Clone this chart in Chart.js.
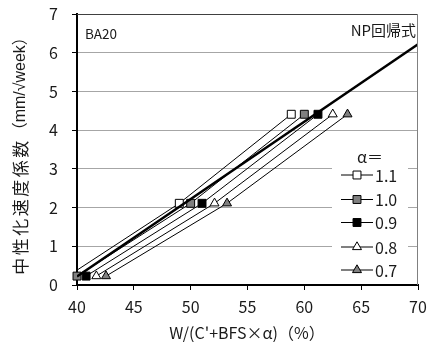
<!DOCTYPE html>
<html>
<head>
<meta charset="utf-8">
<script src="https://cdn.jsdelivr.net/npm/chart.js@4/dist/chart.umd.min.js"></script>
<style>
html, body { margin: 0; padding: 0; background: #fff; }
#wrap { width: 429px; height: 342px; }
</style>
</head>
<body>
<div id="wrap"><canvas id="myChart" width="429" height="342"></canvas></div>
<script>
// values
var alphaLabels = ['1.1', '1.0', '0.9', '0.8', '0.7'];
var yValues = [0.23, 2.11, 4.41];
var x11 = [39.2, 49.0, 58.85];
var x10 = [40.0, 50.0, 60.0];
var x09 = [40.8, 51.0, 61.2];
var x08 = [41.7, 52.1, 62.5];
var x07 = [42.55, 53.2, 63.8];
var regX = [40, 70];
var regY = [0.22, 6.22];
var xTicks = [40, 45, 50, 55, 60, 65, 70];
var yTicks = [0, 1, 2, 3, 4, 5, 6, 7];

var FONT = '"Noto Sans CJK JP", "Noto Sans", sans-serif';
var TXT = '#1a1a1a';

var markers = [
    { style: 'rect', fill: '#ffffff', r: 5.6 },
    { style: 'rect', fill: '#808080', r: 5.6 },
    { style: 'rect', fill: '#000000', r: 5.6 },
    { style: 'triangle', fill: '#ffffff', r: 5.2 },
    { style: 'triangle', fill: '#808080', r: 5.2 }
];
var seriesX = [x11, x10, x09, x08, x07];

function toPoints(xs, ys) {
    var pts = [];
    for (var i = 0; i < xs.length; i++) {
        pts.push({ x: xs[i], y: ys[i] });
    }
    return pts;
}

var datasets = [];
datasets.push({
    label: 'NP回帰式',
    data: toPoints(regX, regY),
    borderColor: '#000',
    borderWidth: 2.5,
    pointRadius: 0,
    clip: 0
});
for (var s = 0; s < seriesX.length; s++) {
    datasets.push({
        label: alphaLabels[s],
        data: toPoints(seriesX[s], yValues),
        borderColor: '#000',
        borderWidth: 1,
        pointStyle: markers[s].style,
        pointRadius: markers[s].r,
        pointBackgroundColor: markers[s].fill,
        pointBorderColor: '#000',
        pointBorderWidth: 1,
        clip: s === 0 ? 0 : { left: 6, top: 0, right: 0, bottom: 6 }
    });
}

function drawMarker(ctx, m, x, y) {
    ctx.save();
    ctx.fillStyle = m.fill;
    ctx.strokeStyle = '#000';
    ctx.lineWidth = 1;
    ctx.beginPath();
    if (m.style === 'rect') {
        var h = m.r * Math.SQRT1_2;
        ctx.rect(x - h, y - h, 2 * h, 2 * h);
    } else {
        ctx.moveTo(x, y - m.r);
        ctx.lineTo(x + m.r * 0.866, y + m.r / 2);
        ctx.lineTo(x - m.r * 0.866, y + m.r / 2);
        ctx.closePath();
    }
    ctx.fill();
    ctx.stroke();
    ctx.restore();
}

var extras = {
    id: 'extras',
    afterDraw: function(chart) {
        var ctx = chart.ctx;
        var a = chart.chartArea;
        ctx.save();
        // frame top / right
        ctx.lineWidth = 1;
        ctx.strokeStyle = '#404040';
        ctx.beginPath();
        ctx.moveTo(a.left, a.top + 0.5);
        ctx.lineTo(a.right, a.top + 0.5);
        ctx.stroke();
        ctx.strokeStyle = '#808080';
        ctx.beginPath();
        ctx.moveTo(a.right - 0.5, a.top);
        ctx.lineTo(a.right - 0.5, a.bottom);
        ctx.stroke();

        // legend box
        ctx.fillStyle = '#fff';
        ctx.fillRect(332, 148, 76, 135);
        ctx.fillStyle = TXT;
        ctx.font = '16px ' + FONT;
        ctx.textBaseline = 'middle';
        ctx.textAlign = 'left';
        ctx.fillText('α＝', 357, 157);
        var ly = [174.5, 199, 222, 246.5, 269.5];
        for (var i = 0; i < alphaLabels.length; i++) {
            ctx.strokeStyle = '#000';
            ctx.lineWidth = 1;
            ctx.beginPath();
            ctx.moveTo(341, ly[i] + 0.5);
            ctx.lineTo(373, ly[i] + 0.5);
            ctx.stroke();
            drawMarker(ctx, markers[i], 357, ly[i] + 0.5);
            ctx.fillStyle = TXT;
            ctx.fillText(alphaLabels[i], 375, ly[i] + 1);
        }

        // labels in plot
        ctx.font = '13.5px ' + FONT;
        ctx.fillText('BA20', 85, 34);
        ctx.font = '15px ' + FONT;
        ctx.textAlign = 'right';
        ctx.fillText('NP回帰式', 416, 30);

        // x title
        ctx.font = '16px ' + FONT;
        ctx.textAlign = 'center';
        ctx.fillText("W/(C'+BFS×α)（%）", 247, 333);

        // y title
        ctx.translate(21, 152);
        ctx.rotate(-Math.PI / 2);
        ctx.font = '17px ' + FONT;
        var p1 = '中性化速度係数';
        var p2 = '（mm/√week）';
        ctx.letterSpacing = '2.5px';
        var w1 = ctx.measureText(p1).width;
        ctx.letterSpacing = '0px';
        ctx.font = '16px "Liberation Sans", ' + FONT;
        var w2 = ctx.measureText(p2).width;
        var x0 = -(w1 + w2) / 2;
        ctx.textAlign = 'left';
        ctx.font = '17px ' + FONT;
        ctx.letterSpacing = '2.5px';
        ctx.fillText(p1, x0, 0);
        ctx.letterSpacing = '0px';
        ctx.font = '16px "Liberation Sans", ' + FONT;
        ctx.fillText(p2, x0 + w1, 0);
        ctx.restore();
    }
};

var ctx = document.getElementById('myChart');
var myChart = new Chart(ctx, {
    type: 'line',
    data: { datasets: datasets },
    options: {
        responsive: false,
        animation: false,
        devicePixelRatio: 1,
        layout: { padding: { left: 0, right: 11, top: 14, bottom: 0 } },
        plugins: { legend: { display: false }, tooltip: { enabled: false } },
        scales: {
            x: {
                type: 'linear',
                min: 40,
                max: 70,
                afterBuildTicks: function(scale) {
                    scale.ticks = xTicks.map(function(v) { return { value: v }; });
                },
                afterFit: function(scale) {
                    scale.height = 57;
                    scale.paddingLeft = 0;
                    scale.paddingRight = 0;
                },
                ticks: { color: TXT, font: { family: FONT, size: 16 }, padding: 7, maxRotation: 0 },
                grid: { drawOnChartArea: false, tickLength: 5, tickColor: '#000', tickWidth: 1 },
                border: { color: '#000', width: 2 }
            },
            y: {
                min: 0,
                max: 7,
                afterBuildTicks: function(scale) {
                    scale.ticks = yTicks.map(function(v) { return { value: v }; });
                },
                afterFit: function(scale) {
                    scale.width = 77;
                    scale.paddingTop = 0;
                    scale.paddingBottom = 0;
                },
                ticks: { color: TXT, font: { family: FONT, size: 16 }, padding: 14 },
                grid: { color: '#a6a6a6', lineWidth: 1, tickLength: 5, tickColor: '#000', tickWidth: 1 },
                border: { color: '#000', width: 2 }
            }
        }
    },
    plugins: [extras]
});
</script>
</body>
</html>
